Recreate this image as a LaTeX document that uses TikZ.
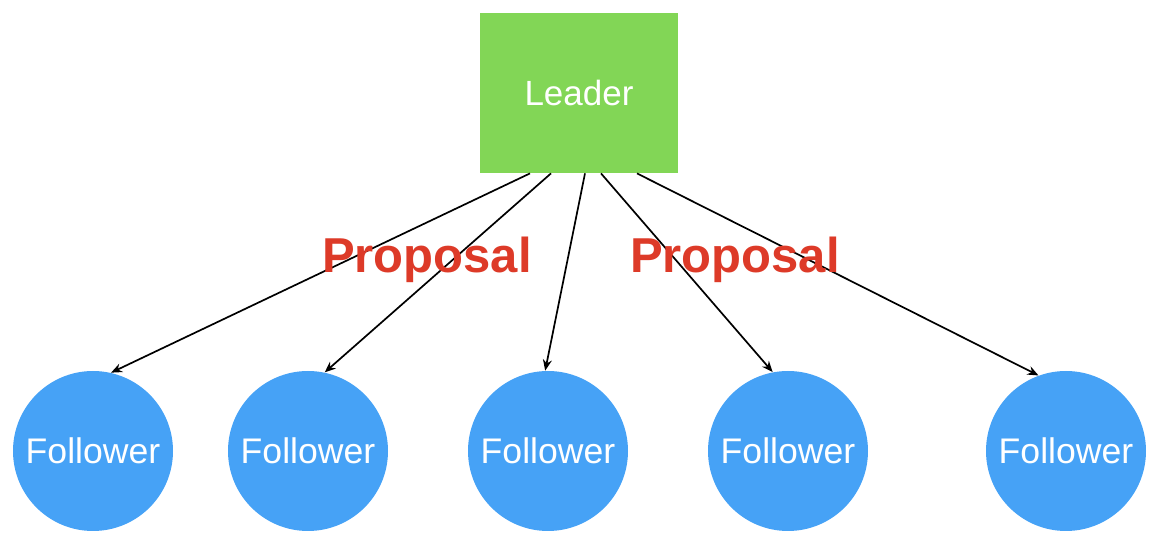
\documentclass[tikz,border=0pt]{standalone}
\usepackage{fontspec}
\setmainfont{Liberation Sans}
\usepackage{xcolor}
\usetikzlibrary{arrows.meta, calc}

\definecolor{leadergreen}{RGB}{130,214,86}
\definecolor{followerblue}{RGB}{70,162,246}
\definecolor{proposalred}{RGB}{221,58,40}

\begin{document}
\begin{tikzpicture}[
    x=0.5pt, y=-0.5pt,
    leaderbox/.style={rectangle, fill=leadergreen, minimum width=99pt, minimum height=80pt, text=white, font=\fontsize{17.5}{20}\selectfont},
    follower/.style={circle, fill=followerblue, minimum size=80pt, inner sep=0pt, text=white, font=\fontsize{17.8}{20}\selectfont},
    label/.style={text=proposalred, font=\bfseries\fontsize{24.5}{28}\selectfont},
    arrow/.style={-{Stealth[length=5.5pt, width=4.5pt]}, line width=0.85pt}
]
\useasboundingbox (0,0) rectangle (1164,550);
\node[leaderbox] (leader) at (579,93) {Leader};
\node[follower] (f1) at (93,451) {Follower};
\node[follower] (f2) at (308,451) {Follower};
\node[follower] (f3) at (548,451) {Follower};
\node[follower] (f4) at (788,451) {Follower};
\node[follower] (f5) at (1066,451) {Follower};
\draw[arrow] ($(leader.south)+(-49,0)$) -- (f1.77.5);
\draw[arrow] ($(leader.south)+(-28,0)$) -- (f2.78);
\draw[arrow] ($(leader.south)+(6,0)$) -- (f3.92);
\draw[arrow] ($(leader.south)+(22,0)$) -- (f4.101);
\draw[arrow] ($(leader.south)+(58,0)$) -- (f5.110);
\node[label] (prop1) at (427,260) {Proposal};
\node[label] (prop2) at (735,260) {Proposal};
\end{tikzpicture}
\end{document}
